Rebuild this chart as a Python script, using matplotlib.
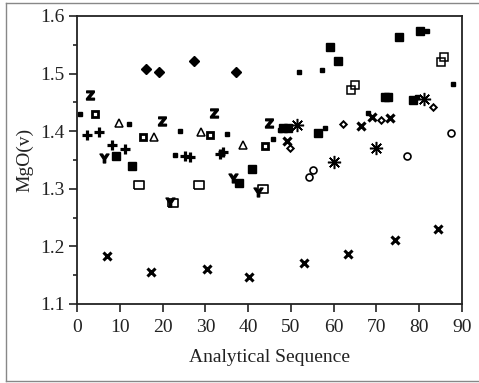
import matplotlib
matplotlib.use("Agg")
import matplotlib.pyplot as plt
from matplotlib.lines import Line2D

plt.rcParams['font.family'] = ['Liberation Serif', 'DejaVu Serif']

# filled diamonds
diamond_x = [16.1, 19.2, 27.3, 37.1]
diamond_y = [1.508, 1.503, 1.522, 1.503]

# low x-crosses
cross_x = [7.0, 17.3, 30.3, 40.1, 53.0, 63.4, 74.3, 84.3]
cross_y = [1.183, 1.156, 1.161, 1.147, 1.171, 1.187, 1.211, 1.230]

# large filled squares
bigsq_x = [9.2, 12.9, 37.9, 40.9, 48.1, 49.3, 56.3, 59.1, 61.0, 72.0, 72.8, 75.2, 78.5, 80.1]
bigsq_y = [1.357, 1.340, 1.310, 1.334, 1.405, 1.406, 1.397, 1.546, 1.522, 1.459, 1.459, 1.564, 1.454, 1.574]

# small filled squares
smallsq_x = [0.7, 12.1, 24.1, 22.9, 35.0, 45.8, 47.4, 51.9, 57.2, 57.9, 68.0, 79.4, 81.8, 87.9]
smallsq_y = [1.430, 1.412, 1.400, 1.358, 1.395, 1.386, 1.402, 1.503, 1.506, 1.405, 1.432, 1.459, 1.574, 1.482]

# squares with a dot in the middle
dotsq_x = [4.2, 15.4, 31.1, 44.0]
dotsq_y = [1.430, 1.390, 1.393, 1.374]

# open rectangles
opensq_x = [14.5, 28.5, 22.4, 43.4]
opensq_y = [1.307, 1.307, 1.275, 1.300]

# doubled open squares
dblsq_x = [64.1, 64.9, 85.1, 85.9]
dblsq_y = [1.472, 1.480, 1.521, 1.529]

# open triangles
tri_x = [9.8, 18.1, 29.0, 38.9]
tri_y = [1.414, 1.390, 1.399, 1.376]

# Z letters
z_x = [3.0, 19.9, 32.0, 44.9]
z_y = [1.463, 1.418, 1.432, 1.414]

# plus signs
plus_x = [2.3, 5.1, 8.2, 11.2, 25.2, 26.4, 33.5, 34.1]
plus_y = [1.393, 1.399, 1.376, 1.369, 1.357, 1.355, 1.360, 1.364]

# Y letters
ylet_x = [6.3, 36.5, 42.3, 21.7]
ylet_y = [1.353, 1.319, 1.295, 1.277]

# asterisks
star_x = [51.4, 60.0, 69.9, 81.1]
star_y = [1.411, 1.347, 1.371, 1.456]

# small open diamonds
sdia_x = [49.8, 62.1, 71.0, 83.2]
sdia_y = [1.371, 1.412, 1.419, 1.442]

# open circles
circ_x = [54.2, 55.2, 77.1, 87.4]
circ_y = [1.321, 1.333, 1.357, 1.397]

# bold X in the middle cluster
bx_x = [49.1, 66.4, 68.9, 73.1]
bx_y = [1.383, 1.409, 1.425, 1.423]

fig = plt.figure(figsize=(4.79, 3.83), dpi=100)
ax = fig.add_axes([77 / 479, 1 - 304 / 383, 385 / 479, 288 / 383])

k = 'black'
ax.plot(diamond_x, diamond_y, 'D', color=k, ms=5.0, ls='none')
ax.plot(cross_x, cross_y, 'x', color=k, ms=5.6, mew=2.2, ls='none')
ax.plot(bigsq_x, bigsq_y, 's', color=k, ms=6.3, ls='none')
ax.plot(smallsq_x, smallsq_y, 's', color=k, ms=3.2, ls='none')
ax.plot(dotsq_x, dotsq_y, 's', mec=k, mfc='white', ms=4.6, mew=2.0, ls='none')
rect = [(-1.35, -1), (1.35, -1), (1.35, 1), (-1.35, 1), (-1.35, -1)]
ax.plot(opensq_x, opensq_y, marker=rect, mec=k, mfc='white', ms=7.8, mew=1.2, ls='none')
ax.plot(dblsq_x, dblsq_y, 's', mec=k, mfc='none', ms=6.0, mew=1.1, ls='none')
ax.plot(tri_x, tri_y, '^', mec=k, mfc='white', ms=6.0, mew=1.1, ls='none')
ax.plot(z_x, z_y, marker=r'$\mathbf{Z}$', color=k, ms=6.5, ls='none')
ax.plot(plus_x, plus_y, '+', color=k, ms=7, mew=2.3, ls='none')
ax.plot(ylet_x, ylet_y, marker=r'$\mathbf{Y}$', color=k, ms=6.5, ls='none')
ax.plot(star_x, star_y, marker=(8, 2, 0), color=k, ms=9.5, mew=1.1, ls='none')
ax.plot(sdia_x, sdia_y, 'D', mec=k, mfc='white', ms=3.3, mew=1.4, ls='none')
ax.plot(circ_x, circ_y, 'o', mec=k, mfc='white', ms=5, mew=1.2, ls='none')
ax.plot(bx_x, bx_y, 'x', color=k, ms=6, mew=2.3, ls='none')

ax.set_xlim(0, 90)
ax.set_ylim(1.1, 1.6)
ax.set_xticks(range(0, 91, 10))
ax.set_yticks([1.1, 1.2, 1.3, 1.4, 1.5, 1.6])
ax.set_yticks([1.15, 1.25, 1.35, 1.45, 1.55], minor=True)
ax.set_yticklabels(['1.1', '1.2', '1.3', '1.4', '1.5', '1.6'])

for s in ax.spines.values():
    s.set_linewidth(1.3)
    s.set_color('#222222')

ax.tick_params(axis='both', which='major', direction='out', length=6, width=1.2,
               labelsize=14, colors='#222222')
ax.tick_params(axis='y', which='major', pad=3)
ax.tick_params(axis='x', which='major', pad=5)
ax.tick_params(axis='y', which='minor', direction='out', length=3, width=1.2, color='#222222')

ax.set_xlabel('Analytical Sequence', fontsize=14, color='#222222', labelpad=9)
ax.set_ylabel('MgO(v)', fontsize=14, color='#222222', labelpad=5)

# thin frame round the picture (left, top, bottom)
frame_kw = dict(transform=fig.transFigure, color='#888888', lw=1.0)
fig.add_artist(Line2D([6 / 479, 6 / 479], [2 / 383, 1 - 3 / 383], **frame_kw))
fig.add_artist(Line2D([6 / 479, 1], [1 - 3 / 383, 1 - 3 / 383], **frame_kw))
fig.add_artist(Line2D([6 / 479, 1], [2 / 383, 2 / 383], **frame_kw))

fig.savefig('out.png', dpi=100)
